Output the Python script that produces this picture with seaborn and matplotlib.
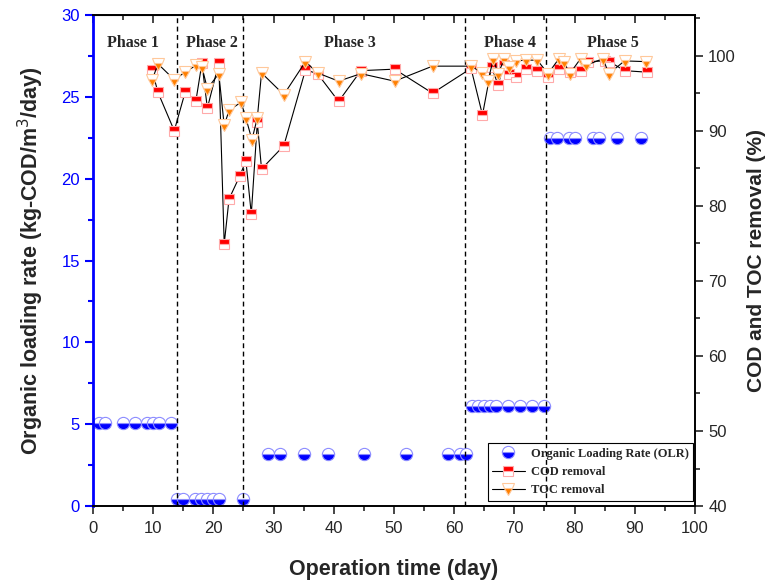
import matplotlib
matplotlib.use('Agg')
import matplotlib.pyplot as plt
import seaborn as sns
import numpy as np

# Organic loading rate (left axis)
olr_day = [1, 2, 5, 7, 9, 10, 11, 13,
           14, 15, 17, 18, 19, 20, 21, 25,
           29, 31, 35, 39, 45, 52, 59, 61, 62,
           63, 64, 65, 66, 67, 69, 71, 73, 75,
           76, 77, 79, 80, 83, 84, 87, 91]
olr_val = [5.1] * 8 + [0.45] * 8 + [3.2] * 9 + [6.1] * 9 + [22.5] * 8

# COD removal (right axis)
cod_day = [9.8, 10.8, 13.5, 15.3, 17.1, 18.1, 19.0, 20.9, 21.8, 22.6, 24.4, 25.4,
           26.3, 27.3, 28.0, 31.7, 35.3, 37.3, 40.8, 44.5, 50.1, 56.4, 62.8,
           64.7, 66.2, 67.3, 68.2, 69.1, 70.2, 72.0, 73.8, 75.6,
           77.4, 79.2, 81.0, 82.2, 85.0, 85.8, 88.3, 92.0]
cod_val = [98.1, 95.1, 90.0, 95.1, 94.0, 99.0, 93.0, 99.0, 74.9, 80.9, 84.0, 86.0,
           78.9, 91.1, 84.9, 88.0, 98.1, 97.6, 93.9, 98.0, 98.2, 95.0, 98.3,
           92.1, 98.5, 96.1, 98.7, 97.6, 97.2, 98.2, 97.9, 97.2,
           98.2, 97.8, 98.0, 99.2, 99.3, 99.2, 98.0, 97.8]

# TOC removal (right axis)
toc_day = [9.8, 10.8, 13.5, 15.3, 17.1, 18.1, 19.0, 20.9, 21.8, 22.6, 24.6, 25.4,
           26.4, 27.3, 28.0, 31.7, 35.3, 37.3, 40.8, 44.5, 50.1, 56.4, 62.8,
           64.7, 65.6, 66.5, 67.3, 68.3, 69.1, 70.2, 72.0, 73.8, 75.6,
           77.4, 78.2, 79.2, 81.0, 81.9, 84.7, 85.7, 88.3, 91.9]
toc_val = [96.7, 98.9, 96.8, 97.8, 98.7, 98.5, 95.6, 97.6, 90.7, 92.7, 93.8, 91.7,
           88.8, 91.7, 97.7, 94.8, 99.2, 97.7, 96.6, 97.6, 96.6, 98.6, 98.6,
           97.7, 96.6, 99.5, 97.6, 99.5, 98.5, 99.3, 99.4, 99.4, 97.6,
           99.6, 99.2, 97.6, 99.6, 98.7, 99.6, 97.6, 99.3, 99.2]

phase_bounds = [14, 25, 61.8, 75.3]
phase_labels = ['Phase 1', 'Phase 2', 'Phase 3', 'Phase 4', 'Phase 5']
phase_label_x = [6.6, 19.8, 42.7, 69.2, 86.4]

sns.set_style('ticks')
plt.rcParams['font.family'] = ['Liberation Sans', 'DejaVu Sans']

fig = plt.figure(figsize=(7.8, 5.81), dpi=100)
ax = fig.add_axes([0.1192, 0.129, 0.7718, 0.845])
ax2 = ax.twinx()

sns.lineplot(x=olr_day, y=olr_val, ax=ax, linestyle='', marker='o', markersize=8.8,
             fillstyle='bottom', markerfacecolor='#0000ff', markerfacecoloralt='white',
             markeredgecolor='#8c8cff', markeredgewidth=0.8,
             label='Organic Loading Rate (OLR)', legend=False)
sns.lineplot(x=cod_day, y=cod_val, ax=ax2, color='black', linewidth=0.8, marker='s',
             markersize=7.3, fillstyle='top', markerfacecolor='#ff0000',
             markerfacecoloralt='white', markeredgecolor='#ffaaaa', markeredgewidth=0.8,
             label='COD removal', sort=False, estimator=None, legend=False)
sns.lineplot(x=toc_day, y=toc_val, ax=ax2, color='black', linewidth=0.8, marker='v',
             markersize=8.8, fillstyle='bottom', markerfacecolor='#ff8000',
             markerfacecoloralt='white', markeredgecolor='#ffc89a', markeredgewidth=0.8,
             label='TOC removal', sort=False, estimator=None, legend=False)

for b in phase_bounds:
    ax.axvline(b, color='black', linestyle=(0, (3.5, 2.5)), linewidth=1)

for lab, xp in zip(phase_labels, phase_label_x):
    ax.text(xp, 28.3, lab, ha='center', va='center', fontsize=11.5, fontweight='bold',
            family=['Liberation Serif', 'DejaVu Serif'])

ax.set_xlim(0, 100)
ax.set_ylim(0, 30)
ax2.set_ylim(40, 105.4)
ax.set_xticks(np.arange(0, 101, 10))
ax.set_xticks(np.arange(0, 101, 5), minor=True)
ax.set_yticks(np.arange(0, 31, 5))
ax.set_yticks(np.arange(0, 31, 2.5), minor=True)
ax2.set_yticks(np.arange(40, 101, 10))
ax2.set_yticks(np.arange(40, 106, 5), minor=True)

ax.set_xlabel('Operation time (day)', fontsize=15.5, fontweight='bold', labelpad=16)
ax.set_ylabel('Organic loading rate (kg-COD/m$^3$/day)', fontsize=15.5, fontweight='bold',
              labelpad=11)
ax2.set_ylabel('COD and TOC removal (%)', fontsize=15, fontweight='bold', labelpad=8)

for a in (ax, ax2):
    for s in a.spines.values():
        s.set_visible(True)
        s.set_color('black')
        s.set_linewidth(1.2)
ax.spines['left'].set_color('#0000ff')
ax.spines['left'].set_linewidth(2)
ax2.spines['left'].set_visible(False)

ax.tick_params(axis='x', which='major', direction='out', length=6, width=1.2, labelsize=12, pad=5)
ax.tick_params(axis='x', which='minor', direction='out', length=3.5, width=1.2)
ax.tick_params(axis='y', which='major', direction='out', length=6, width=1.5,
               colors='#0000ff', labelsize=12)
ax.tick_params(axis='y', which='minor', direction='out', length=3.5, width=1.5, colors='#0000ff')
ax2.tick_params(axis='y', which='major', direction='out', length=6, width=1.2, labelsize=12)
ax2.tick_params(axis='y', which='minor', direction='out', length=3.5, width=1.2)

top = ax.secondary_xaxis('top')
top.set_xticks(np.arange(0, 101, 10))
top.set_xticks(np.arange(0, 101, 5), minor=True)
top.tick_params(which='major', direction='in', length=6, width=1.2, labeltop=False)
top.tick_params(which='minor', direction='in', length=3.5, width=1.2)

h1, l1 = ax.get_legend_handles_labels()
h2, l2 = ax2.get_legend_handles_labels()
leg = ax2.legend(h1 + h2, l1 + l2, loc='lower right', bbox_to_anchor=(0.997, 0.011),
                 borderaxespad=0, frameon=True, fancybox=False, framealpha=1,
                 facecolor='none', edgecolor='black',
                 prop={'family': 'Liberation Serif', 'weight': 'bold', 'size': 9},
                 handlelength=2.6, handletextpad=0.5, labelspacing=0.5, borderpad=0.35)
leg.get_frame().set_linewidth(0.8)

fig.savefig('out.png', dpi=100)
plt.close('all')
